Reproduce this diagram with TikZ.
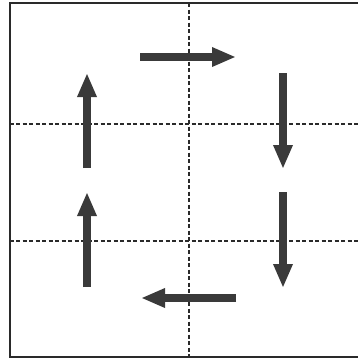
\documentclass[tikz,border=0pt]{standalone}
\usepackage{xcolor}
\usetikzlibrary{arrows.meta}
\definecolor{ink}{HTML}{3A3A3A}
\definecolor{rule}{HTML}{2A2A2A}
\tikzset{
  frame/.style={draw=rule,line width=2pt},
  grid/.style={draw=rule,line width=1.8pt,dash pattern=on 4pt off 2.5pt},
  move/.style={draw=ink,line width=7.5pt,-{Triangle[length=24pt,width=18pt]}}
}
\begin{document}
\begin{tikzpicture}[x=1pt,y=-1pt]
  \useasboundingbox (0,0) rectangle (357,362);
  % outer frame, right side runs off the page
  \draw[frame] (358,3) -- (9.5,3) -- (9.5,357) -- (358,357);
  % dashed grid
  \coordinate (vtop) at (189,3);
  \coordinate (vbot) at (189,357);
  \coordinate (h1l) at (9.5,124);
  \coordinate (h1r) at (358,124);
  \coordinate (h2l) at (9.5,241);
  \coordinate (h2r) at (358,241);
  \draw[grid] (vtop) -- (vbot);
  \draw[grid] (h1l) -- (h1r);
  \draw[grid] (h2l) -- (h2r);
  % arrows round the loop
  \coordinate (topA) at (140,57);
  \coordinate (topB) at (236,57);
  \coordinate (rgtA) at (283,73);
  \coordinate (rgtB) at (283,169);
  \coordinate (rgtC) at (283,192);
  \coordinate (rgtD) at (283,288);
  \coordinate (botA) at (236,298);
  \coordinate (botB) at (141,298);
  \coordinate (lftA) at (87,168);
  \coordinate (lftB) at (87,73);
  \coordinate (lftC) at (87,287);
  \coordinate (lftD) at (87,192);
  \draw[move] (topA) -- (topB);
  \draw[move] (rgtA) -- (rgtB);
  \draw[move] (rgtC) -- (rgtD);
  \draw[move] (botA) -- (botB);
  \draw[move] (lftA) -- (lftB);
  \draw[move] (lftC) -- (lftD);
\end{tikzpicture}
\end{document}
